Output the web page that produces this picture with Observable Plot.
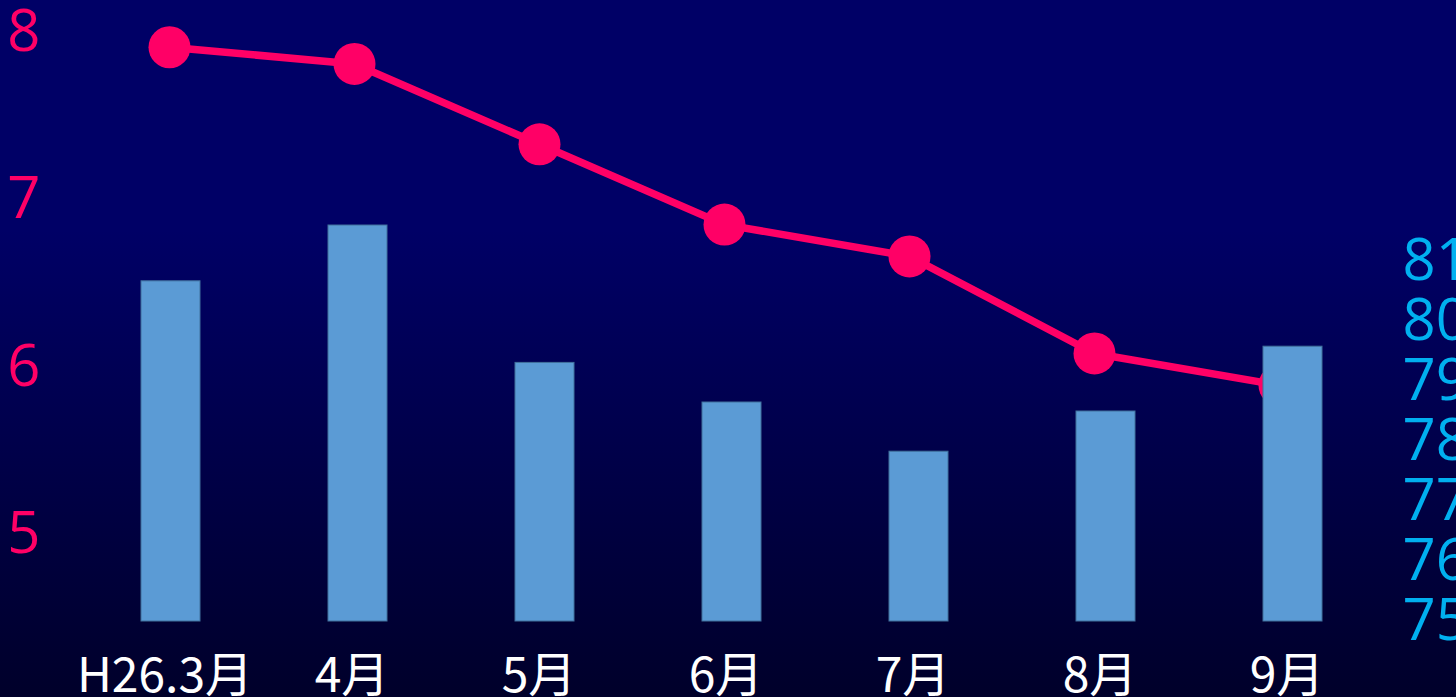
<!DOCTYPE html>
<html><head><meta charset="utf-8">
<script src="https://cdn.jsdelivr.net/npm/d3@7"></script>
<script src="https://cdn.jsdelivr.net/npm/@observablehq/plot@0.6"></script>
<style>
html,body{margin:0;padding:0;background:#000066;overflow:hidden}
#wrap{position:relative;width:1456px;height:697px;background:linear-gradient(to bottom,#000066 0%,#000066 33%,#00002a 100%);}
#wrap svg{position:absolute;left:0;top:0;max-width:none}
</style></head><body><div id="wrap"></div>
<script>
const months = ["H26.3月","4月","5月","6月","7月","8月","9月"];
const lineValues = [7.90, 7.80, 7.32, 6.84, 6.65, 6.07, 5.88];
const barValues = [80.67, 81.6, 79.31, 78.65, 77.83, 78.5, 79.58];
const leftTicks = [5, 6, 7, 8];
const rightTicks = [75, 76, 77, 78, 79, 80, 81];
const barBase = 75;

const lineData = months.map((m, i) => ({month: m, value: lineValues[i]}));
const barData = months.map((m, i) => ({month: m, value: barValues[i]}));

const pLine = Plot.plot({
  width: 1456, height: 697,
  marginLeft: 169, marginRight: 177, marginTop: 30, marginBottom: 165,
  style: {background: "transparent", fontFamily: "'Open Sans', 'Noto Sans', sans-serif"},
  x: {type: "point", domain: months, padding: 0, axis: null},
  y: {domain: [5, 8], axis: null},
  marks: [
    Plot.axisY(leftTicks, {anchor: "left", tickSize: 0, tickPadding: 129, dy: 2, tickFormat: d => String(d), fill: "#FF0066", fontSize: 58, label: null, fontFamily: "'Open Sans', sans-serif"}),
    Plot.lineY(lineData, {x: "month", y: "value", stroke: "#FF0066", strokeWidth: 7.5}),
    Plot.dot(lineData, {x: "month", y: "value", r: 21, fill: "#FF0066"})
  ]
});

const pBar = Plot.plot({
  width: 1456, height: 697,
  marginLeft: 140, marginRight: 134, marginTop: 261, marginBottom: 76,
  style: {background: "transparent", fontFamily: "'Open Sans', 'Noto Sans', sans-serif"},
  x: {type: "band", domain: months, paddingInner: 0.685, paddingOuter: 0, axis: null},
  y: {domain: [75, 81], axis: null},
  marks: [
    Plot.barY(barData, {x: "month", y1: () => barBase, y2: "value", fill: "#5B9BD5", stroke: "#41719C", strokeWidth: 1}),
    Plot.axisY(rightTicks, {anchor: "right", tickSize: 0, tickPadding: 80, tickFormat: d => String(d), fill: "#00B0F0", fontSize: 58, label: null, fontFamily: "'Open Sans', sans-serif"}),
    Plot.axisX({anchor: "bottom", tickSize: 0, tickPadding: 36, dx: -6, fill: "white", fontSize: 48, label: null, fontFamily: "'Noto Sans CJK JP', sans-serif"})
  ]
});

const wrap = document.getElementById("wrap");
wrap.appendChild(pLine);
wrap.appendChild(pBar);
</script>
</body></html>
